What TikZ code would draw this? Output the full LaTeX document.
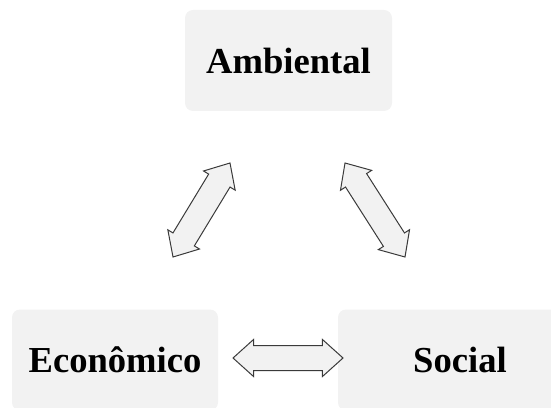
\documentclass[tikz,border=0pt]{standalone}
\usepackage{fontspec}
\setmainfont{Liberation Serif}
\usetikzlibrary{shapes.arrows,calc}
\definecolor{boxgray}{HTML}{F2F2F2}
\definecolor{edgegray}{HTML}{3A3A3A}
\tikzset{pillar/.style={fill=boxgray,rounded corners=4pt,inner sep=0pt,
    minimum height=50.5pt,font=\fontsize{18.3}{20}\selectfont\bfseries},
  blockarrow/.style={double arrow,draw=edgegray,fill=boxgray,line width=0.5pt,
    inner xsep=0pt,inner ysep=6pt,double arrow head extend=3pt,
    double arrow tip angle=84}
}
% two-headed block arrow between two named points
\newcommand{\linkarrow}[3]{%
  \path let \p1=(#1), \p2=(#2), \n1={atan2(\y2-\y1,\x2-\x1)},
    \n2={veclen(\x2-\x1,\y2-\y1)} in
    node[blockarrow,rotate=\n1,minimum height=\n2] (#3) at ($(#1)!0.5!(#2)$) {};}

\begin{document}
\begin{tikzpicture}[x=0.5pt,y=0.5pt]
    \useasboundingbox (0,0) rectangle (551,407);
    \begin{scope}
        \clip (0,0) rectangle (551,407);
        % Pillars
        \node[pillar,minimum width=103.5pt] (amb) at (288.5,346.5) {Ambiental};
        \node[pillar,minimum width=103pt] (eco) at (115,47) {Econômico};
        \node[pillar,minimum width=122pt] (soc) at (460,47) {Social};
    \end{scope}

    % Arrow ends
    \coordinate (ea1) at (173,150);
    \coordinate (ea2) at (230,244);
    \coordinate (as1) at (345,244);
    \coordinate (as2) at (405,150);
    \coordinate (es1) at (233,49);
    \coordinate (es2) at (343,49);

    % Links
    \linkarrow{ea1}{ea2}{arrEA}
    \linkarrow{as1}{as2}{arrAS}
    \linkarrow{es1}{es2}{arrES}
\end{tikzpicture}
\end{document}
